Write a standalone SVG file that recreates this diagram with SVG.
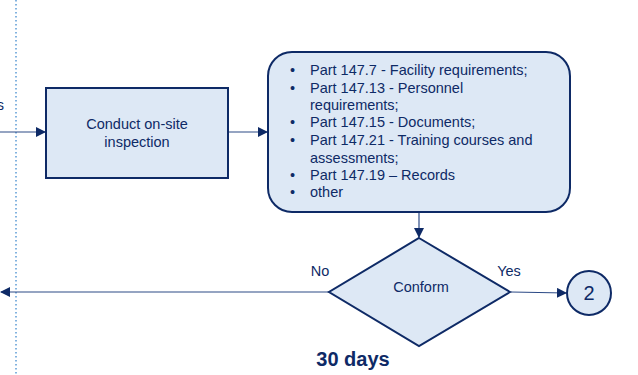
<svg xmlns="http://www.w3.org/2000/svg" width="638" height="375" viewBox="0 0 638 375">
<style>
.shape{fill:#dde8f5;stroke:#0e2a66;stroke-width:2}
.t{font-family:"Liberation Sans",Arial,sans-serif;fill:#0e2a66;font-size:14.5px}
.c{text-anchor:middle}
.line{stroke:#2c4a86;stroke-width:1.2;fill:none}
</style>
<defs>
<marker id="ah" markerWidth="10" markerHeight="10" refX="9" refY="5" orient="auto" markerUnits="userSpaceOnUse">
<path d="M0,0 L10,5 L0,10 z" fill="#0e2a66"/>
</marker>
</defs>
<rect width="638" height="375" fill="#ffffff"/>
<line x1="16" y1="0" x2="16" y2="375" stroke="#5b9bd5" stroke-width="1.5" stroke-dasharray="1.5,2.5"/>
<text class="t" x="4" y="110" text-anchor="end">s</text>
<g id="connectors">
<line class="line" x1="0" y1="132" x2="45" y2="132" marker-end="url(#ah)"/>
<line class="line" x1="228" y1="132" x2="267" y2="132" marker-end="url(#ah)"/>
<line class="line" x1="419" y1="212" x2="419" y2="237" marker-end="url(#ah)"/>
<line class="line" x1="329" y1="292" x2="1" y2="292" marker-end="url(#ah)"/>
<line class="line" x1="511" y1="292" x2="566" y2="293" marker-end="url(#ah)"/>
<text class="t" x="320" y="276" text-anchor="middle">No</text>
<text class="t" x="509" y="276" text-anchor="middle">Yes</text>
</g>
<g id="inspect">
<rect class="shape" x="46" y="88" width="182" height="90"/>
<text class="t c" x="137" y="129">Conduct on-site</text>
<text class="t c" x="137" y="147">inspection</text>
</g>
<g id="requirements">
<rect class="shape" x="268" y="52" width="302" height="160" rx="24"/>
<g class="t">
<text x="290" y="75">•</text><text x="310" y="75">Part 147.7 - Facility requirements;</text>
<text x="290" y="93">•</text><text x="310" y="93">Part 147.13 - Personnel</text>
<text x="310" y="110">requirements;</text>
<text x="290" y="127">•</text><text x="310" y="127">Part 147.15 - Documents;</text>
<text x="290" y="145">•</text><text x="310" y="145">Part 147.21 - Training courses and</text>
<text x="310" y="163">assessments;</text>
<text x="290" y="180">•</text><text x="310" y="180">Part 147.19 – Records</text>
<text x="290" y="197">•</text><text x="310" y="197">other</text>
</g>
</g>
<g id="conform">
<polygon class="shape" points="419,238 510,292 419,346 329,292"/>
<text class="t c" x="421" y="292">Conform</text>
</g>
<g id="connector2">
<circle class="shape" cx="589" cy="293" r="22"/>
<text class="t c" x="589" y="300" style="font-size:20px">2</text>
</g>
<text class="t c" x="353" y="366" style="font-size:20px;font-weight:bold">30 days</text>
</svg>
